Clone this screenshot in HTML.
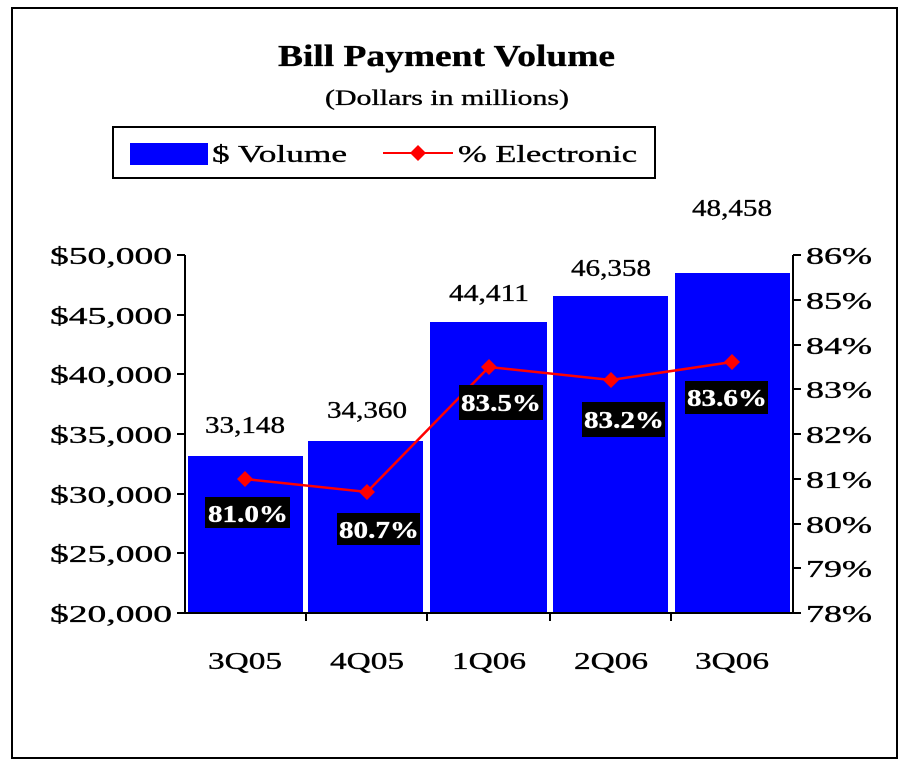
<!DOCTYPE html>
<html><head><meta charset="utf-8"><style>
html,body{margin:0;padding:0;background:#fff;}
svg{display:block;}
text{font-family:"Liberation Serif",serif;fill:#000;stroke:#000;stroke-width:0.35;}
</style></head><body>
<svg width="909" height="768" viewBox="0 0 909 768" xmlns="http://www.w3.org/2000/svg">
<rect x="12" y="8" width="885" height="750" fill="#fff" stroke="#000" stroke-width="2"/>
<text x="278" y="66" font-size="31" font-weight="bold" textLength="337" lengthAdjust="spacingAndGlyphs">Bill Payment Volume</text>
<text x="325" y="105" font-size="22" textLength="244" lengthAdjust="spacingAndGlyphs">(Dollars in millions)</text>
<rect x="113" y="127" width="542" height="51" fill="#fff" stroke="#000" stroke-width="2"/>
<rect x="130" y="143" width="78" height="22" fill="#0000ff"/>
<text x="212" y="162" font-size="24" textLength="135" lengthAdjust="spacingAndGlyphs">$ Volume</text>
<line x1="383" y1="153" x2="453" y2="153" stroke="#ff0000" stroke-width="2"/>
<path d="M418 145 L426 153 L418 161 L410 153Z" fill="#ff0000"/>
<text x="458" y="162" font-size="24" textLength="179" lengthAdjust="spacingAndGlyphs">% Electronic</text>
<rect x="188" y="456" width="115" height="157" fill="#0000ff"/>
<rect x="308" y="441" width="115" height="172" fill="#0000ff"/>
<rect x="430" y="322" width="117" height="291" fill="#0000ff"/>
<rect x="553" y="296" width="115" height="317" fill="#0000ff"/>
<rect x="675" y="273" width="115" height="340" fill="#0000ff"/>
<g stroke="#000" stroke-width="2">
<line x1="185" y1="255" x2="185" y2="614"/>
<line x1="793" y1="255" x2="793" y2="614"/>
<line x1="185" y1="613" x2="793" y2="613"/>
<line x1="177" y1="255" x2="185" y2="255"/><line x1="177" y1="315" x2="185" y2="315"/>
<line x1="177" y1="374" x2="185" y2="374"/><line x1="177" y1="434" x2="185" y2="434"/>
<line x1="177" y1="494" x2="185" y2="494"/><line x1="177" y1="553" x2="185" y2="553"/>
<line x1="177" y1="613" x2="185" y2="613"/>
<line x1="793" y1="255" x2="801" y2="255"/><line x1="793" y1="300" x2="801" y2="300"/>
<line x1="793" y1="345" x2="801" y2="345"/><line x1="793" y1="389" x2="801" y2="389"/>
<line x1="793" y1="434" x2="801" y2="434"/><line x1="793" y1="479" x2="801" y2="479"/>
<line x1="793" y1="524" x2="801" y2="524"/><line x1="793" y1="568" x2="801" y2="568"/>
<line x1="793" y1="613" x2="801" y2="613"/>
<line x1="306" y1="613" x2="306" y2="621"/><line x1="427" y1="613" x2="427" y2="621"/>
<line x1="550" y1="613" x2="550" y2="621"/><line x1="671" y1="613" x2="671" y2="621"/>
</g>
<g font-size="24">
<text x="50" y="264" textLength="122" lengthAdjust="spacingAndGlyphs">$50,000</text>
<text x="50" y="324" textLength="122" lengthAdjust="spacingAndGlyphs">$45,000</text>
<text x="50" y="383" textLength="122" lengthAdjust="spacingAndGlyphs">$40,000</text>
<text x="50" y="443" textLength="122" lengthAdjust="spacingAndGlyphs">$35,000</text>
<text x="50" y="503" textLength="122" lengthAdjust="spacingAndGlyphs">$30,000</text>
<text x="50" y="562" textLength="122" lengthAdjust="spacingAndGlyphs">$25,000</text>
<text x="50" y="622" textLength="122" lengthAdjust="spacingAndGlyphs">$20,000</text>
</g>
<g font-size="24">
<text x="806" y="264" textLength="66" lengthAdjust="spacingAndGlyphs">86%</text>
<text x="806" y="309" textLength="66" lengthAdjust="spacingAndGlyphs">85%</text>
<text x="806" y="354" textLength="66" lengthAdjust="spacingAndGlyphs">84%</text>
<text x="806" y="398" textLength="66" lengthAdjust="spacingAndGlyphs">83%</text>
<text x="806" y="443" textLength="66" lengthAdjust="spacingAndGlyphs">82%</text>
<text x="806" y="488" textLength="66" lengthAdjust="spacingAndGlyphs">81%</text>
<text x="806" y="533" textLength="66" lengthAdjust="spacingAndGlyphs">80%</text>
<text x="806" y="577" textLength="66" lengthAdjust="spacingAndGlyphs">79%</text>
<text x="806" y="622" textLength="66" lengthAdjust="spacingAndGlyphs">78%</text>
</g>
<g font-size="24">
<text x="208" y="669" textLength="74" lengthAdjust="spacingAndGlyphs">3Q05</text>
<text x="330" y="669" textLength="74" lengthAdjust="spacingAndGlyphs">4Q05</text>
<text x="452" y="669" textLength="74" lengthAdjust="spacingAndGlyphs">1Q06</text>
<text x="574" y="669" textLength="74" lengthAdjust="spacingAndGlyphs">2Q06</text>
<text x="695" y="669" textLength="74" lengthAdjust="spacingAndGlyphs">3Q06</text>
<text x="205" y="433" textLength="80" lengthAdjust="spacingAndGlyphs">33,148</text>
<text x="327" y="418" textLength="80" lengthAdjust="spacingAndGlyphs">34,360</text>
<text x="449" y="301" textLength="80" lengthAdjust="spacingAndGlyphs">44,411</text>
<text x="571" y="276" textLength="80" lengthAdjust="spacingAndGlyphs">46,358</text>
<text x="692" y="216" textLength="80" lengthAdjust="spacingAndGlyphs">48,458</text>
</g>
<polyline points="245,479 367,492 489,367 611,380 732,362" fill="none" stroke="#ff0000" stroke-width="2.5"/>
<g fill="#ff0000">
<path d="M245 471 L253 479 L245 487 L237 479Z"/><path d="M367 484 L375 492 L367 500 L359 492Z"/>
<path d="M489 359 L497 367 L489 375 L481 367Z"/><path d="M611 372 L619 380 L611 388 L603 380Z"/>
<path d="M732 354 L740 362 L732 370 L724 362Z"/>
</g>
<g fill="#000">
<rect x="205" y="497" width="85" height="31"/><rect x="337" y="513" width="83" height="32"/>
<rect x="459" y="385" width="84" height="35"/><rect x="582" y="402" width="83" height="35"/>
<rect x="685" y="381" width="83" height="33"/>
</g>
<g font-size="24" font-weight="bold">
<text x="208" y="522" textLength="80" lengthAdjust="spacingAndGlyphs" style="fill:#fff;stroke:#fff">81.0%</text>
<text x="339" y="538" textLength="80" lengthAdjust="spacingAndGlyphs" style="fill:#fff;stroke:#fff">80.7%</text>
<text x="461" y="411" textLength="80" lengthAdjust="spacingAndGlyphs" style="fill:#fff;stroke:#fff">83.5%</text>
<text x="584" y="428" textLength="80" lengthAdjust="spacingAndGlyphs" style="fill:#fff;stroke:#fff">83.2%</text>
<text x="687" y="406" textLength="80" lengthAdjust="spacingAndGlyphs" style="fill:#fff;stroke:#fff">83.6%</text>
</g>
</svg>
</body></html>
